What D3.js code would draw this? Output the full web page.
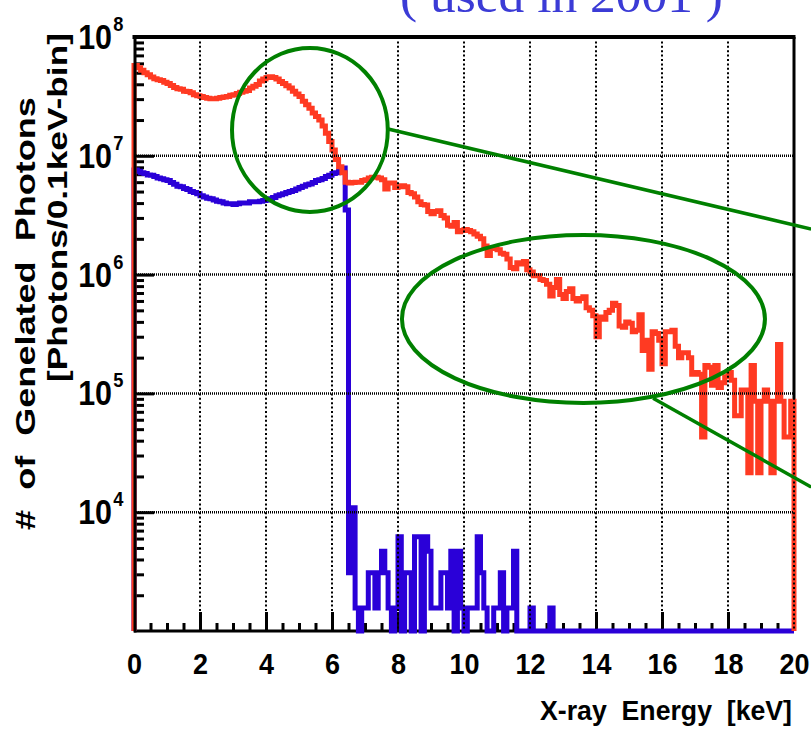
<!DOCTYPE html>
<html><head><meta charset="utf-8">
<script src="https://cdn.jsdelivr.net/npm/d3@7"></script>
<style>body{margin:0;background:#fff}svg{display:block}</style>
</head><body>
<svg id="c" width="811" height="732"></svg>
<script>
// ---------------- data ----------------
const xMin = 0, xMax = 20, binWidth = 0.1;        // keV
const yMin = 1e3, yMax = 1e8;                     // photons / 0.1 keV bin
const xMajorTicks = [0,2,4,6,8,10,12,14,16,18,20];
const xTickLabels = ["0","2","4","6","8","10","12","14","16","18","20"];
const yDecadeTicks = [1e4,1e5,1e6,1e7,1e8];
const yTickExponents = ["4","5","6","7","8"];
const xTitle = "X-ray  Energy  [keV]";
const yTitle1 = "#  of  Genelated  Photons";
const yTitle2 = "[Photons/0.1keV-bin]";
const topCaption = "( used in 2001 )";

// red histogram (200 bins of 0.1 keV)
const redCounts = [
5.75e7,5.5e7,5.25e7,5.0e7,4.8e7,4.6e7,4.45e7,4.37e7,4.3e7,4.17e7,
4.07e7,3.9e7,3.75e7,3.67e7,3.63e7,3.5e7,3.47e7,3.39e7,3.27e7,3.2e7,
3.16e7,3.09e7,3.05e7,3.02e7,3.02e7,3.05e7,3.09e7,3.13e7,3.16e7,3.24e7,
3.27e7,3.35e7,3.43e7,3.5e7,3.55e7,3.72e7,3.85e7,3.98e7,4.27e7,4.42e7,
4.57e7,4.62e7,4.57e7,4.42e7,4.22e7,4.07e7,3.89e7,3.72e7,3.5e7,3.31e7,
3.16e7,2.88e7,2.69e7,2.51e7,2.29e7,2.14e7,2.0e7,1.78e7,1.55e7,1.32e7,
1.12e7,9.3e6,8.1e6,7.2e6,6.0e6,5.9e6,5.95e6,6.0e6,6.0e6,6.2e6,
6.3e6,6.5e6,6.6e6,6.6e6,6.5e6,6.3e6,5.25e6,5.9e6,5.9e6,5.4e6,
5.5e6,5.6e6,5.5e6,4.9e6,4.8e6,4.5e6,4.1e6,3.9e6,3.85e6,3.4e6,
3.25e6,3.4e6,3.45e6,3.15e6,3.0e6,2.6e6,2.55e6,2.75e6,2.3e6,2.35e6,
2.4e6,2.35e6,2.3e6,2.2e6,2.1e6,2.0e6,1.74e6,1.45e6,1.66e6,1.66e6,
1.62e6,1.51e6,1.48e6,1.35e6,1.15e6,1.12e6,1.26e6,1.23e6,1.29e6,1.1e6,
1.05e6,9.8e5,9.8e5,9.1e5,8.9e5,8.3e5,6.6e5,7.8e5,9.1e5,6.8e5,
6.3e5,7.2e5,7.6e5,6.3e5,6.0e5,6.3e5,6.5e5,5.25e5,5.0e5,4.5e5,
3.0e5,4.4e5,4.2e5,4.8e5,5.0e5,5.75e5,5.5e5,3.7e5,3.6e5,4.0e5,
3.9e5,3.3e5,3.4e5,4.6e5,2.3e5,2.8e5,1.6e5,3.3e5,3.2e5,2.8e5,
1.78e5,3.3e5,3.3e5,3.4e5,2.5e5,2.0e5,2.2e5,2.2e5,2.0e5,1.45e5,
1.5e5,1.45e5,4.3e4,1.72e5,1.66e5,1.17e5,1.72e5,1.12e5,1.23e5,1.38e5,
1.5e5,1.29e5,6.5e4,6.5e4,1.07e5,1.07e5,2.15e4,1.72e5,8.6e4,2.15e4,
8.6e4,1.07e5,8.6e4,2.15e4,8.6e4,2.58e5,8.6e4,4.3e4,4.3e4,8.6e4
];

// blue histogram (200 bins of 0.1 keV)
const blueCounts = [
7.6e6,7.4e6,7.2e6,7.1e6,6.9e6,6.85e6,6.7e6,6.5e6,6.4e6,6.3e6,
6.2e6,5.95e6,5.75e6,5.55e6,5.5e6,5.3e6,5.2e6,5.0e6,4.9e6,4.8e6,
4.6e6,4.5e6,4.4e6,4.35e6,4.25e6,4.15e6,4.1e6,4.0e6,3.95e6,3.95e6,
3.9e6,3.95e6,4.0e6,4.0e6,4.0e6,4.1e6,4.1e6,4.1e6,4.15e6,4.2e6,
4.25e6,4.35e6,4.45e6,4.6e6,4.7e6,4.8e6,4.9e6,5.0e6,5.1e6,5.25e6,
5.4e6,5.55e6,5.7e6,5.8e6,5.95e6,6.2e6,6.3e6,6.45e6,6.7e6,6.85e6,
7.1e6,7.2e6,7.4e6,7.9e6,3.5e6,3100,10900,1560,0,1560,
1560,3100,3100,1560,3100,4700,3100,1560,0,1560,
6200,0,3100,3100,0,6200,6200,0,6200,4700,
1560,1560,1560,3100,3100,1560,4700,0,4700,1560,
0,1560,1560,1560,6200,3100,1560,0,0,1560,
1560,3100,0,1560,1560,4700,0,0,0,0,
1560,0,0,0,0,0,1560,0,0,0,
0,0,0,0,0,0,0,0,0,0,
0,0,0,0,0,0,0,0,0,0,
0,0,0,0,0,0,0,0,0,0,
0,0,0,0,0,0,0,0,0,0,
0,0,0,0,0,0,0,0,0,0,
0,0,0,0,0,0,0,0,0,0,
0,0,0,0,0,0,0,0,0,0
];

// green hand-drawn annotations, in data coordinates (keV, counts; ry in decades)
const annotEllipses = [
  {cx:5.33, cy:1.65e7, rx:2.36, ryDec:0.69},
  {cx:13.62, cy:4.23e5, rx:5.5, ryDec:0.707}
];
const annotLines = [
  {x1:7.70, y1:1.68e7, x2:20.52, y2:2.42e6},
  {x1:15.73, y1:9.1e4, x2:20.52, y2:1.63e4}
];

// ---------------- drawing ----------------
const svg = d3.select("#c");
const M = {left:134, right:794, top:37, bottom:631};
const x = d3.scaleLinear().domain([xMin, xMax]).range([M.left, M.right]);
const y = d3.scaleLog().domain([yMin, yMax]).range([M.bottom, M.top]);
const FONT = "'Liberation Sans', Arial, Helvetica, sans-serif";
const RED = "#ff3a22", BLUE = "#2a00d8", GREEN = "#008000";

// ticks (drawn first; histogram lines cover them)
const xMinor = d3.range(xMin, xMax + 1e-9, 0.5).filter(v => !xMajorTicks.includes(v));
const yMinor = [];
for (let d = 3; d < 8; d++) for (let k = 2; k <= 9; k++) yMinor.push(k * Math.pow(10, d));

function styleTicks(g){ g.select(".domain").remove(); g.selectAll(".tick line").attr("stroke","#000").attr("stroke-width",3); }

svg.append("g").attr("transform",`translate(0,${M.bottom})`)
  .call(d3.axisBottom(x).tickValues(xMinor).tickSize(-8).tickFormat("")).call(styleTicks);
const gxMaj = svg.append("g").attr("transform",`translate(0,${M.bottom})`)
  .call(d3.axisBottom(x).tickValues(xMajorTicks).tickSize(-19).tickPadding(22)
        .tickFormat((d,i) => xTickLabels[i])).call(styleTicks);
gxMaj.selectAll(".tick text").attr("font-family",FONT).attr("font-weight","bold")
  .attr("font-size",30).attr("fill","#000").attr("transform","scale(0.9,1)");

svg.append("g").attr("transform",`translate(${M.left},0)`)
  .call(d3.axisLeft(y).tickValues(yMinor).tickSize(-10).tickFormat("")).call(styleTicks);
svg.append("g").attr("transform",`translate(${M.left},0)`)
  .call(d3.axisLeft(y).tickValues(yDecadeTicks.slice(0,4)).tickSize(-20).tickFormat("")).call(styleTicks);

// frame lines (bottom, top, right) under the histograms
svg.append("line").attr("x1",M.left).attr("x2",M.right).attr("y1",M.bottom).attr("y2",M.bottom)
  .attr("stroke","#000").attr("stroke-width",3);
svg.append("line").attr("x1",M.left-1.5).attr("x2",M.right+1.5).attr("y1",M.top).attr("y2",M.top)
  .attr("stroke","#000").attr("stroke-width",4);
svg.append("line").attr("x1",M.right).attr("x2",M.right).attr("y1",M.top).attr("y2",M.bottom)
  .attr("stroke","#000").attr("stroke-width",3);

// histograms as step lines
const edges = d3.range(redCounts.length + 1).map(i => xMin + i * binWidth);
function stepPoints(vals){
  const pts = [[xMin, yMin]];
  vals.forEach((v,i) => { const vv = Math.max(v, yMin); pts.push([edges[i], vv], [edges[i+1], vv]); });
  pts.push([edges[vals.length], yMin]);
  return pts;
}
const line = d3.line().x(d => x(d[0])).y(d => y(d[1]));
svg.append("path").attr("d", line(stepPoints(blueCounts))).attr("fill","none")
  .attr("stroke",BLUE).attr("stroke-width",5).attr("stroke-linejoin","miter");
svg.append("path").attr("d", line(stepPoints(redCounts))).attr("fill","none")
  .attr("stroke",RED).attr("stroke-width",5).attr("stroke-linejoin","miter");

// dotted grid on top
const grid = svg.append("g");
grid.selectAll("line.gx").data(xMajorTicks.filter(v => v > xMin)).join("line")
  .attr("x1",d=>x(d)).attr("x2",d=>x(d)).attr("y1",M.top).attr("y2",M.bottom)
  .attr("stroke","#000").attr("stroke-width",2).attr("stroke-dasharray","2,2.4");
grid.selectAll("line.gy").data(yDecadeTicks.slice(0,4)).join("line")
  .attr("x1",M.left).attr("x2",M.right).attr("y1",d=>y(d)).attr("y2",d=>y(d))
  .attr("stroke","#000").attr("stroke-width",2.5).attr("stroke-dasharray","1,1");

// left axis line on top
svg.append("line").attr("x1",M.left+1).attr("x2",M.left+1).attr("y1",M.top-2).attr("y2",M.bottom+1.5)
  .attr("stroke","#000").attr("stroke-width",3);

// y tick labels 10^n
const yl = svg.append("g").selectAll("g").data(yDecadeTicks).join("g")
  .attr("transform", d => `translate(112,${y(d)})`);
yl.append("text").text("10").attr("x",0).attr("y",12).attr("text-anchor","end")
  .attr("font-family",FONT).attr("font-weight","bold").attr("font-size",35)
  .attr("transform","scale(0.87,1)");
yl.append("text").text((d,i) => yTickExponents[i]).attr("x",1.5).attr("y",-6)
  .attr("font-family",FONT).attr("font-weight","bold").attr("font-size",21)
  .attr("transform","scale(0.87,1)");

// titles
function fitText(sel, target){
  const w = sel.node().getComputedTextLength();
  return target / w;
}
const xt = svg.append("text").text(xTitle).attr("font-family",FONT).attr("font-weight","bold")
  .attr("font-size",27).attr("text-anchor","end").style("white-space","pre");
let s = fitText(xt, 252);
xt.attr("transform",`translate(792,720) scale(${s},1)`);

const yt1 = svg.append("text").text(yTitle1).attr("font-family",FONT).attr("font-weight","bold")
  .attr("font-size",28).attr("text-anchor","middle").style("white-space","pre");
s = fitText(yt1, 433);
yt1.attr("transform",`translate(35,313.5) rotate(-90) scale(${s},1)`);

const yt2 = svg.append("text").text(yTitle2).attr("font-family",FONT).attr("font-weight","bold")
  .attr("font-size",28).attr("text-anchor","middle").style("white-space","pre");
s = fitText(yt2, 349);
yt2.attr("transform",`translate(67,207.5) rotate(-90) scale(${s},1)`);

const cap = svg.append("text").text(topCaption).attr("font-family","'Liberation Serif','Times New Roman',serif")
  .attr("font-size",48).attr("fill","#3b3bd6").attr("text-anchor","middle").style("white-space","pre");
s = fitText(cap, 323);
cap.attr("transform",`translate(561.5,12) scale(${s},1)`);

// green annotations
const decPx = y(1e3) - y(1e4);
svg.append("g").selectAll("ellipse").data(annotEllipses).join("ellipse")
  .attr("cx",d=>x(d.cx)).attr("cy",d=>y(d.cy))
  .attr("rx",d=>x(d.rx)-x(0)).attr("ry",d=>d.ryDec*decPx)
  .attr("fill","none").attr("stroke",GREEN).attr("stroke-width",4);
svg.append("g").selectAll("line").data(annotLines).join("line")
  .attr("x1",d=>x(d.x1)).attr("y1",d=>y(d.y1)).attr("x2",d=>x(d.x2)).attr("y2",d=>y(d.y2))
  .attr("stroke",GREEN).attr("stroke-width",3.5);
</script>
</body></html>
